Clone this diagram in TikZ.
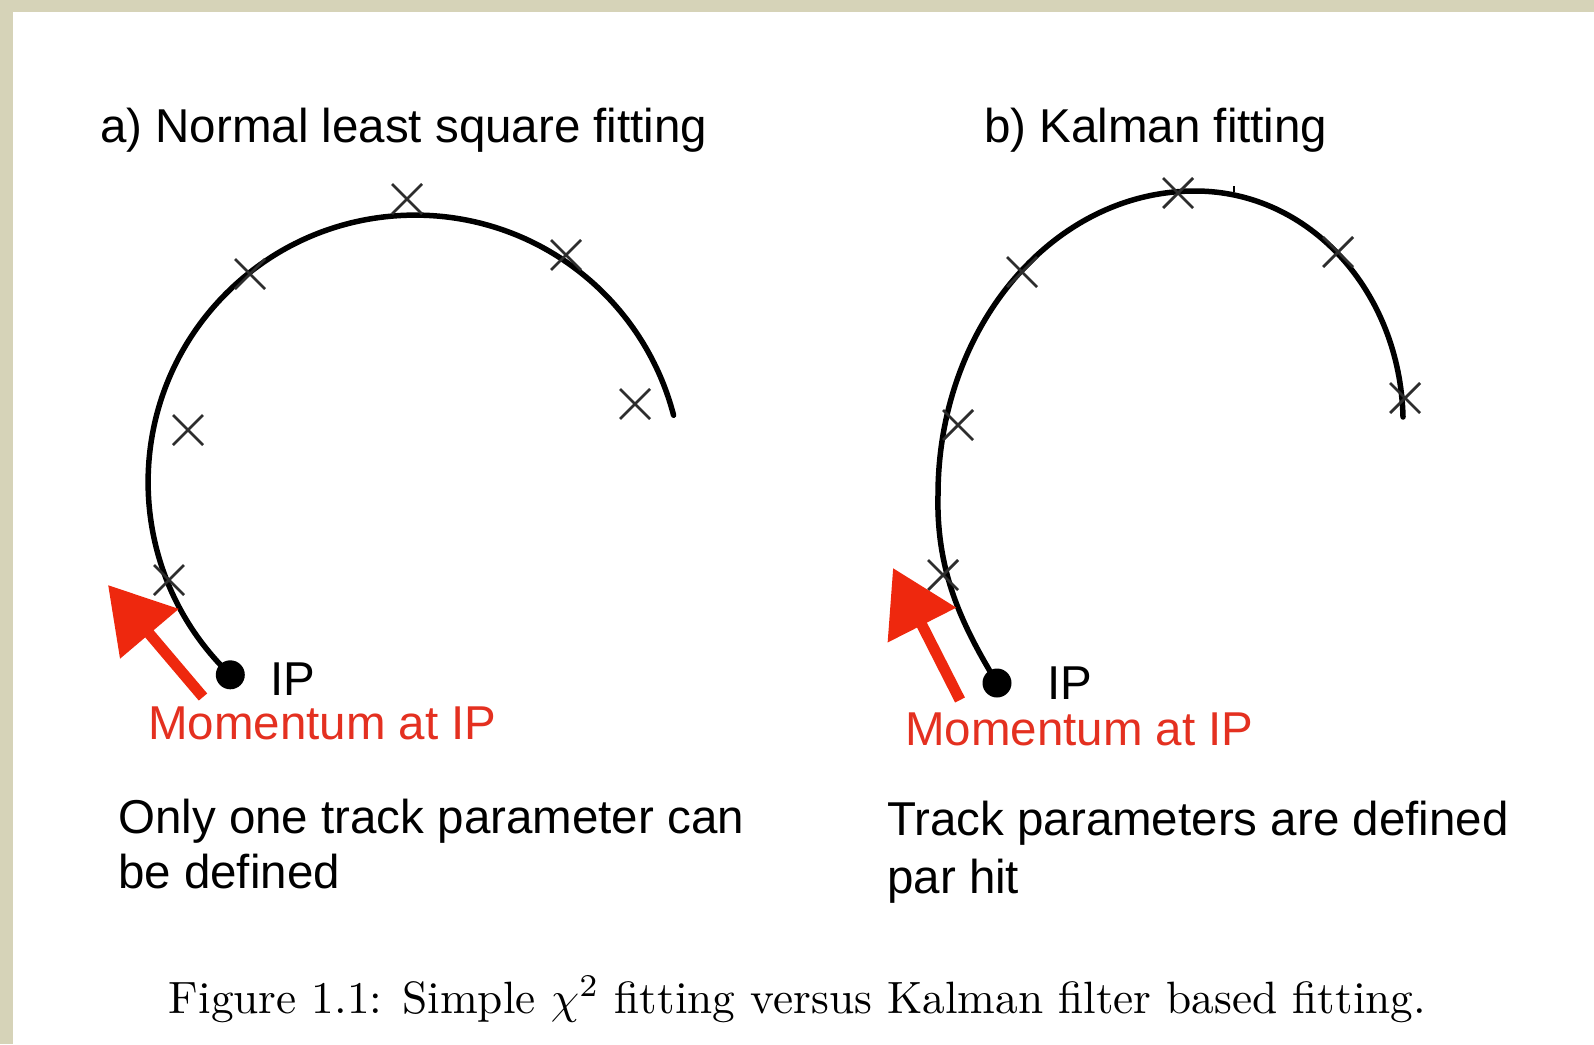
\documentclass[tikz,border=0pt]{standalone}
\usepackage{fontspec}
\newfontfamily\helv{Liberation Sans}
\usetikzlibrary{arrows.meta}
\definecolor{beige}{RGB}{214,211,184}
\definecolor{txtred}{RGB}{228,48,32}
\definecolor{arrred}{RGB}{238,40,14}
\definecolor{xgray}{RGB}{45,45,45}
\tikzset{
  hitcross/.style={draw=xgray, line width=2.8pt},
  hit/.pic={\draw[hitcross] (-15,-15) -- (15,15) (-15,15) -- (15,-15);},
  track/.style={line width=5.5pt, line cap=round},
  ipdot/.style={circle, fill=black, inner sep=0pt, minimum size=29pt},
  momarrow/.style={draw=arrred, line width=11pt, -{Triangle[length=64pt,width=74pt]}},
  sans/.style={font=\helv\fontsize{47.5}{56}\selectfont, inner sep=0pt, anchor=base west},
  redlabel/.style={sans, text=txtred},
  captionstyle/.style={font=\fontsize{10}{12}\selectfont, scale=4.53, transform shape, inner sep=0pt, anchor=base west}
}
\begin{document}
\begin{tikzpicture}[x=1pt,y=-1pt]
\useasboundingbox (0,0) rectangle (1594,1044);
\fill[white] (0,0) rectangle (1594,1044);
\fill[beige] (0,0) rectangle (1594,12);
\fill[beige] (0,0) rectangle (13,1044);

% titles
\node[sans] (titleA) at (100,142) {a) Normal least square fitting};
\node[sans] (titleB) at (984,142) {b) Kalman fitting};

% ---- left: least squares ----
\coordinate (ipA) at (230.3,674.8);
\draw[track] (ipA) arc[start angle=133.8, end angle=345.5, radius=267];
\pic at (407,199) {hit};
\pic at (250,274) {hit};
\pic at (566,255) {hit};
\pic at (188,430) {hit};
\pic at (169,580) {hit};
\pic at (635,404) {hit};
\node[ipdot] (dotA) at (ipA) {};
\node[sans] (ipTextA) at (270,695) {IP};
\coordinate (tailA) at (203,697);
\coordinate (tipA) at (108,585);
\draw[momarrow] (tailA) -- (tipA);
\node[redlabel] (momA) at (148,739) {Momentum at IP};
\node[sans] (noteA1) at (118,833) {Only one track parameter can};
\node[sans] (noteA2) at (118,888) {be defined};

% ---- right: Kalman ----
\coordinate (ipB) at (997,683);
\coordinate (leftB) at (938,495);
\coordinate (topB) at (1195,191);
\coordinate (endB) at (1403,417);
\draw[track] (ipB) .. controls (965,630) and (936,575) .. (leftB)
  .. controls (938,327) and (1053,191) .. (topB)
  .. controls (1310,191) and (1400,292) .. (endB);
\draw[line width=2pt] (1234,186) -- (1234,192);
\pic at (943,575) {hit};
\pic at (958,425) {hit};
\pic at (1022,272) {hit};
\pic at (1178,193) {hit};
\pic at (1338,252) {hit};
\pic at (1405,398) {hit};
\node[ipdot] (dotB) at (ipB) {};
\node[sans] (ipTextB) at (1047,699) {IP};
\coordinate (tailB) at (960,700);
\coordinate (tipB) at (893,568);
\draw[momarrow] (tailB) -- (tipB);
\node[redlabel] (momB) at (905,745) {Momentum at IP};
\node[sans] (noteB1) at (887,835) {Track parameters are defined};
\node[sans] (noteB2) at (887,893) {par hit};

% caption
\node[captionstyle] (cap) at (168,1013) {Figure 1.1: Simple $\chi^2$ fitting versus Kalman filter based fitting.};
\end{tikzpicture}
\end{document}
